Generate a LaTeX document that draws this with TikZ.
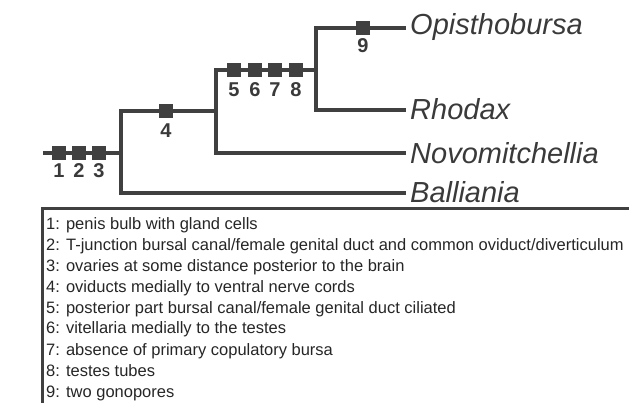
\documentclass[tikz,border=0pt]{standalone}
\usepackage{fontspec}
\setmainfont{Liberation Sans}
\definecolor{tree}{HTML}{404040}
\definecolor{txt}{HTML}{3A3A3A}
\begin{document}
\begin{tikzpicture}[x=1pt,y=-1pt,
  branch/.style={draw=tree,line width=4.6pt,line join=miter},
  sq/.style={fill=tree,minimum size=14pt,inner sep=0pt},
  num/.style={anchor=base,inner sep=0pt,text=txt,font=\fontsize{20}{20}\selectfont\bfseries},
  taxon/.style={anchor=base west,inner sep=0pt,text=txt,font=\fontsize{29}{29}\selectfont\itshape},
  leg/.style={anchor=base west,inner sep=0pt,text=black!85,font=\fontsize{16.5}{20}\selectfont},
  frame/.style={draw=tree,line width=3pt}]
\useasboundingbox (0,0) rectangle (629,403);
% tree coordinates
\coordinate (r0) at (43,153);
\coordinate (n1) at (121,153);
\coordinate (n1t) at (121,111);
\coordinate (n1b) at (121,193);
\coordinate (n2) at (216,111);
\coordinate (n2t) at (216,70);
\coordinate (n2b) at (216,153);
\coordinate (n3) at (316,70);
\coordinate (n3t) at (316,28);
\coordinate (n3b) at (316,110);
\coordinate (e1) at (406,28);
\coordinate (e2) at (406,110);
\coordinate (e3) at (406,153);
\coordinate (e4) at (406,193);
% branches
\draw[branch] (r0) -- (n1);
\draw[branch] (e4) -- (n1b) -- (n1t) -- (n2);
\draw[branch] (e3) -- (n2b) -- (n2t) -- (n3);
\draw[branch] (e1) -- (n3t) -- (n3b) -- (e2);
% taxa
\node[taxon] (opi) at (410,35) {Opisthobursa};
\node[taxon] (rho) at (410,120) {Rhodax};
\node[taxon] (nov) at (410,164) {Novomitchellia};
\node[taxon] (bal) at (410,203) {Balliania};
% character squares
\node[sq] (s1) at (59,153) {};
\node[sq] (s2) at (79,153) {};
\node[sq] (s3) at (99,153) {};
\node[sq] (s4) at (166,111) {};
\node[sq] (s5) at (234,70) {};
\node[sq] (s6) at (255,70) {};
\node[sq] (s7) at (275,70) {};
\node[sq] (s8) at (296,70) {};
\node[sq] (s9) at (363,28) {};
\node[num] (t1) at (59,178) {1};
\node[num] (t2) at (79,178) {2};
\node[num] (t3) at (99,178) {3};
\node[num] (t4) at (166,138) {4};
\node[num] (t5) at (234,97) {5};
\node[num] (t6) at (255,97) {6};
\node[num] (t7) at (275,97) {7};
\node[num] (t8) at (296,97) {8};
\node[num] (t9) at (363,53) {9};
% legend frame
\coordinate (fr) at (629,209);
\coordinate (fc) at (42,209);
\coordinate (fb) at (42,403);
\draw[frame] (fr) -- (fc) -- (fb);
% legend
\node[leg] (l1) at (46,230) {1: penis bulb with gland cells};
\node[leg] (l2) at (46,251) {2: T-junction bursal canal/female genital duct and common oviduct/diverticulum};
\node[leg] (l3) at (46,272) {3: ovaries at some distance posterior to the brain};
\node[leg] (l4) at (46,293) {4: oviducts medially to ventral nerve cords};
\node[leg] (l5) at (46,313) {5: posterior part bursal canal/female genital duct ciliated};
\node[leg] (l6) at (46,334) {6: vitellaria medially to the testes};
\node[leg] (l7) at (46,355) {7: absence of primary copulatory bursa};
\node[leg] (l8) at (46,376) {8: testes tubes};
\node[leg] (l9) at (46,397) {9: two gonopores};
\end{tikzpicture}
\end{document}
